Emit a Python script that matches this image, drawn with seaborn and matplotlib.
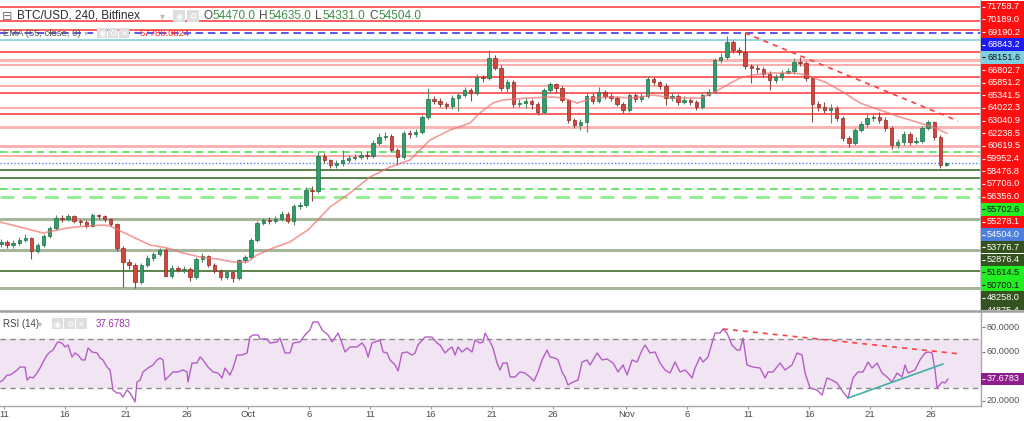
import numpy as np
import pandas as pd
import matplotlib
matplotlib.use("Agg")
import matplotlib.pyplot as plt
import seaborn as sns
from matplotlib.patches import Rectangle

# ---------------- data ----------------
candle_start = "2021-09-10 12:00"      # 12h candles
first_open = 45500
closes = [
    45768, 45436, 45657, 45989, 46210, 44772, 45436, 46431, 47316, 48427,
    48350, 48643, 48090, 47980, 47537, 48754, 48643, 48312, 47758, 45104,
    43556, 43224, 41344, 43224, 43998, 44440, 44883, 42007, 42892, 42700,
    42781, 41897, 43888, 44220, 43224, 42560, 41897, 42450, 41786, 43777,
    44109, 45989, 47869, 48201, 48050, 48312, 48864, 48090, 49749, 49860,
    51519, 51408, 55280, 54837, 54284, 54505, 54837, 55058, 55169, 55390,
    55280, 56717, 57381, 57491, 55943, 55169, 57823, 57713, 57934, 59593,
    61582, 61400, 61031, 60809, 61694, 62026, 62579, 62247, 64017, 63900,
    66118, 65012, 62800, 63464, 61031, 61141, 61362, 61031, 60146, 62579,
    63243, 62800, 61473, 59261, 58708, 59040, 61915, 61362, 62358, 61915,
    61694, 61031, 60367, 62026, 61582, 61915, 63796, 63464, 63021, 61694,
    61915, 61252, 61473, 61252, 60699, 62026, 62358, 65897, 66229, 67888,
    67003, 66782, 65234, 65012, 64902, 64349, 63685, 64017, 64459, 64680,
    65676, 65565, 63906, 61031, 60699, 60367, 60588, 59482, 57271, 56717,
    58155, 58819, 59482, 59593, 59261, 58376, 56497, 56828, 57713, 56828,
    56939, 58376, 59040, 57381, 54284, 54504]
highs = [
    46150, 46000, 45950, 46300, 46700, 46350, 45700, 46650, 47550, 48700,
    48750, 48900, 48800, 48300, 48150, 48950, 48900, 48800, 48450, 47900,
    45300, 43900, 43500, 43500, 44300, 44700, 45150, 45050, 43200, 43150,
    43100, 43000, 44100, 44600, 44350, 43400, 42750, 42700, 42600, 43900,
    44350, 46200, 48100, 48400, 48500, 48600, 49200, 49100, 50000, 50200,
    51900, 51950, 55700, 55650, 55000, 54800, 55900, 55400, 55500, 55700,
    55800, 57000, 57800, 57900, 57700, 56200, 58000, 58200, 58300, 59850,
    62800, 61900, 61700, 61300, 62000, 62400, 62900, 62800, 64300, 64200,
    67000, 66400, 65300, 63800, 63700, 61600, 61700, 61600, 61300, 62800,
    63500, 63400, 63000, 61600, 59500, 59400, 62200, 62200, 62900, 62600,
    62300, 61900, 61300, 62300, 62300, 62200, 64100, 64000, 63600, 63300,
    62300, 62100, 61900, 61700, 61500, 62300, 62700, 66100, 66700, 68500,
    68100, 67300, 68900, 65500, 65300, 65100, 64700, 64300, 64800, 65000,
    66100, 66200, 65800, 64100, 61400, 61300, 61000, 60800, 59700, 57500,
    58400, 59100, 59900, 59900, 60200, 59600, 58600, 57200, 58000, 57900,
    57400, 58600, 59300, 59200, 57600, 54635]
lows = [
    45200, 45100, 45150, 45400, 45800, 43900, 44500, 45250, 46200, 47100,
    48000, 48100, 47850, 47700, 47300, 47400, 48300, 48000, 47500, 44800,
    40800, 42800, 40700, 41100, 43000, 43700, 44200, 41900, 41800, 42400,
    42350, 41500, 41700, 43600, 43000, 42300, 41600, 41650, 41300, 41600,
    43500, 43900, 45800, 47600, 47800, 47850, 48100, 47900, 47700, 49400,
    49600, 50300, 51200, 54500, 53900, 53900, 54200, 54500, 54800, 54900,
    54950, 55100, 56500, 57100, 55700, 54300, 55000, 57300, 57400, 57700,
    59400, 61000, 60700, 60500, 60500, 60300, 61800, 61400, 62000, 63500,
    63700, 64800, 62500, 62400, 60700, 60700, 60600, 60500, 59800, 59900,
    62300, 62400, 61200, 58900, 58400, 58200, 57900, 61000, 61100, 61600,
    61400, 60800, 60000, 60100, 61300, 61300, 61700, 63100, 62700, 60900,
    61400, 60900, 61000, 60900, 60400, 60500, 61900, 62200, 65600, 66000,
    66700, 66400, 64900, 63300, 64500, 64000, 62600, 63400, 63700, 64300,
    64400, 65200, 63600, 59000, 60300, 60000, 58900, 59100, 56900, 56300,
    56500, 57900, 58500, 59100, 58900, 58000, 56100, 56200, 56500, 56500,
    56600, 56700, 58100, 57100, 53900, 54200]

# EMA(55) line, days since Sep 11
ema_days = [-0.33, 1.31, 3.20, 5.16, 6.80, 8.11, 8.69, 10.57, 11.97, 13.36,
            14.67, 16.07, 17.46, 18.77, 19.92, 20.74, 22.05, 23.44, 24.26, 24.92,
            26.72, 28.36, 30.00, 31.64, 33.28, 34.92, 36.56, 38.20, 39.00, 40.08,
            40.90, 42.87, 45.00, 45.82, 46.97, 48.28, 49.92, 51.56, 53.20, 54.84,
            57.05, 58.11, 59.26, 60.33, 61.39, 63.03, 64.67, 65.82, 67.46, 68.77,
            70.16, 71.80, 73.44, 75.08, 76.15, 77.30]
ema_vals = [47980, 47427, 46763, 47316, 47537, 47648, 47537, 46320, 45436, 45104,
            44551, 44109, 43888, 43556, 43556, 44330, 45104, 45768, 46542, 47095,
            49639, 51187, 52957, 54063, 54837, 57049, 58155, 58929, 60035, 61141,
            61473, 61694, 61805, 61694, 61141, 61694, 61805, 61694, 62026, 61694,
            61694, 62247, 63132, 63906, 64238, 64459, 64459, 64238, 63353, 62358,
            61141, 60367, 59593, 58929, 58486, 57786]

# RSI(14)
rsi_days = [-0.33, -0.08, 0.25, 0.49, 0.74, 1.07, 1.31, 1.72, 1.89, 2.13,
            2.38, 2.70, 2.95, 3.20, 3.52, 3.77, 4.02, 4.34, 4.43, 4.75,
            5.00, 5.25, 5.57, 5.82, 6.07, 6.39, 6.64, 6.89, 7.21, 7.62,
            7.87, 8.11, 8.44, 8.69, 8.93, 9.26, 9.51, 9.75, 10.08, 10.33,
            10.57, 10.74, 10.90, 11.15, 11.39, 11.80, 12.21, 12.54, 12.79, 13.03,
            13.20, 13.61, 13.85, 14.26, 14.67, 15.00, 15.08, 15.41, 15.82, 16.07,
            16.31, 16.72, 17.13, 17.54, 17.87, 18.11, 18.52, 18.77, 19.10, 19.51,
            19.92, 20.16, 20.41, 20.82, 20.98, 21.56, 21.80, 22.38, 22.62, 23.03,
            23.44, 23.69, 24.26, 24.67, 25.08, 25.33, 25.74, 26.07, 26.56, 26.89,
            27.38, 27.70, 27.95, 28.36, 28.93, 29.34, 29.59, 29.84, 30.16, 30.41,
            30.82, 31.07, 31.39, 31.64, 32.05, 32.30, 32.62, 33.03, 33.44, 33.69,
            33.93, 34.51, 35.08, 35.49, 35.74, 36.15, 36.39, 36.72, 36.97, 37.21,
            37.54, 37.95, 38.36, 38.61, 39.02, 39.26, 39.43, 39.84, 40.08, 40.41,
            40.66, 40.90, 41.23, 41.48, 41.89, 42.30, 42.70, 43.11, 43.44, 43.77,
            44.10, 44.51, 44.75, 45.16, 45.41, 45.74, 45.98, 46.23, 46.64, 47.05,
            47.38, 47.79, 48.03, 48.28, 48.61, 49.02, 49.43, 49.92, 50.33, 50.74,
            51.07, 51.48, 51.89, 52.30, 52.54, 52.95, 53.36, 53.77, 54.18, 54.59,
            55.00, 55.41, 55.82, 56.07, 56.39, 56.64, 57.05, 57.30, 57.70, 58.03,
            58.28, 58.69, 58.93, 59.26, 59.67, 60.08, 60.33, 60.57, 60.90, 61.39,
            61.97, 62.38, 62.62, 63.03, 63.61, 64.02, 64.59, 65.00, 65.41, 65.66,
            66.07, 66.64, 67.05, 67.46, 67.87, 68.28, 68.77, 69.18, 69.59, 70.00,
            70.41, 70.82, 71.15, 71.56, 71.97, 72.38, 72.79, 73.20, 73.61, 73.85,
            74.10, 74.67, 75.08, 75.49, 75.74, 76.07, 76.31, 76.48, 76.89, 77.13,
            77.38]
rsi_vals = [35.1, 36.7, 40.8, 40.8, 42.4, 44.9, 47.3, 47.3, 36.7, 39.2,
            38.4, 42.4, 46.5, 51.4, 57.1, 59.6, 61.2, 66.9, 67.8, 66.9,
            63.7, 65.3, 55.5, 58.8, 57.1, 53.1, 53.1, 62.9, 59.6, 58.8,
            54.7, 53.1, 47.3, 44.9, 28.6, 26.1, 26.1, 22.9, 28.6, 26.1,
            22.0, 18.8, 35.1, 36.7, 43.3, 46.5, 49.0, 53.1, 54.7, 53.1,
            36.7, 40.8, 43.3, 43.3, 44.9, 43.3, 35.1, 50.6, 50.6, 55.5,
            53.1, 47.3, 43.3, 42.4, 38.4, 46.5, 40.8, 46.5, 57.1, 57.1,
            58.8, 71.8, 73.5, 73.5, 70.2, 70.2, 66.9, 67.8, 71.0, 58.8,
            58.8, 66.9, 67.8, 73.5, 77.6, 84.1, 84.1, 77.6, 73.5, 67.8,
            75.1, 66.9, 59.6, 63.7, 63.7, 66.9, 63.7, 55.5, 66.9, 67.8,
            69.4, 59.6, 58.8, 53.1, 49.0, 44.1, 58.8, 59.6, 57.1, 58.8,
            65.3, 71.8, 71.8, 66.9, 65.3, 58.8, 61.2, 63.7, 57.1, 63.7,
            59.6, 62.9, 59.6, 69.4, 66.9, 67.8, 75.1, 67.8, 62.9, 50.6,
            44.9, 50.6, 50.6, 39.2, 39.2, 43.3, 42.4, 39.2, 35.9, 43.3,
            53.1, 61.2, 55.5, 54.7, 53.1, 43.3, 39.2, 32.7, 35.1, 36.7,
            51.4, 53.1, 49.0, 53.1, 58.8, 53.1, 53.9, 50.6, 43.3, 49.0,
            40.8, 53.1, 51.4, 61.2, 65.3, 58.8, 59.6, 50.6, 44.9, 42.4,
            51.4, 43.3, 44.9, 42.4, 38.4, 46.5, 55.5, 51.4, 55.5, 66.9,
            75.1, 75.1, 78.4, 75.1, 65.3, 61.2, 61.2, 71.0, 49.0, 47.3,
            46.5, 38.4, 43.3, 43.3, 50.6, 44.9, 49.0, 58.8, 57.1, 42.4,
            30.2, 28.6, 24.5, 38.4, 36.7, 34.3, 26.9, 22.0, 38.4, 43.3,
            43.3, 51.4, 46.5, 50.6, 42.4, 39.2, 35.1, 42.4, 39.2, 49.0,
            42.4, 44.9, 53.1, 58.8, 59.6, 58.8, 44.9, 30.2, 35.1, 34.3,
            37.68]

# horizontal price levels and their axis labels
level_prices = [71758.7, 70189.0, 69190.2, 68843.2, 68151.6, 66802.7, 65851.2,
                65341.5, 64022.3, 63040.9, 62238.5, 60619.5, 59952.4, 58476.8,
                57706.0, 56356.0, 55702.6, 55278.1, 54504.0, 53776.7, 52876.4,
                51614.5, 50700.1, 48258.0, 44875.4, 42560.0, 40680.0]
level_styles = ["red", "red", "red", "blue_dash", "cyan", "red", "pink",
                "pink_thin", "red", "pink_thin", "red", "pink_thin", "red", "pink",
                "none", "pink", "gdash", "pink_thin", "blue_dot", "dkgreen", "dkgreen",
                "gdash", "gdash_thick", "gray_green", "gray_green", "dkgreen", "gray_green"]
R, G, DG = "#ff1010", "#22ee22", "#34531f"
label_colors = [R, R, R, "#1c1cf0", "#7ecfdf", R, R, R, R, R, R, R, R, R, R, R,
                G, R, "#4c7fe0", DG, DG, G, G, DG, DG, DG, DG]
label_text_colors = ["white"] * 27
for k in (4, 16, 21, 22):
    label_text_colors[k] = "#151515"

price_trend_days = [60.74, 78.20]
price_trend_vals = [68883, 59150]
rsi_red_days = [58.93, 78.36]
rsi_red_vals = [78.4, 58.0]
rsi_teal_days = [69.18, 76.97]
rsi_teal_vals = [22.0, 49.8]
rsi_last = 37.6783
ema_last = "57786.0824"

ohlc_letters = ["O", "H", "L", "C"]
ohlc_values = ["54470.0", "54635.0", "54331.0", "54504.0"]

tick_dates = ["2021-09-11", "2021-09-16", "2021-09-21", "2021-09-26", "2021-10-01",
              "2021-10-06", "2021-10-11", "2021-10-16", "2021-10-21", "2021-10-26",
              "2021-11-01", "2021-11-06", "2021-11-11", "2021-11-16", "2021-11-21",
              "2021-11-26"]
tick_labels = ["11", "16", "21", "26", "Oct", "6", "11", "16", "21", "26",
               "Nov", "6", "11", "16", "21", "26"]
rsi_axis_ticks = [80, 60, 20]

# ---------------- styling ----------------
sns.set_theme(style="white")
plt.rcParams['font.family'] = ['Liberation Sans', 'DejaVu Sans']
plt.rcParams['axes.unicode_minus'] = False

STY = {
    "red": dict(color="#ff1f1f", lw=1.1, alpha=0.9, ls="-"),
    "pink": dict(color="#ff6b6b", lw=2.2, alpha=0.5, ls="-"),
    "pink_thin": dict(color="#ff5a5a", lw=1.2, alpha=0.6, ls="-"),
    "blue_dash": dict(color="#2a2aee", lw=1.1, ls=(0, (5, 3))),
    "cyan": dict(color="#8fd4e0", lw=1.3, ls="-"),
    "gdash": dict(color="#44dd44", lw=1.1, ls=(0, (5, 3))),
    "gdash_thick": dict(color="#8cee8c", lw=2.0, ls=(0, (5, 3))),
    "dkgreen": dict(color="#3f6f2c", lw=1.2, ls="-"),
    "gray_green": dict(color="#a5b69a", lw=2.2, ls="-"),
    "blue_dot": dict(color="#5a7ff0", lw=1.0, ls=(0, (1, 1.5))),
}

W, H = 1024, 421
PLOT_R = 981
PRICE_H = 310
RSI_TOP, RSI_BOT = 312, 406
fig = plt.figure(figsize=(W / 100, H / 100), dpi=100)
fig.patch.set_facecolor("white")

ax = fig.add_axes([0, (H - PRICE_H) / H, PLOT_R / W, PRICE_H / H])
axr = fig.add_axes([0, (H - RSI_BOT) / H, PLOT_R / W, (RSI_BOT - RSI_TOP) / H])
XL = (-0.33, 80.08)
# RSI panel value range mapped so that 80 -> y327 and 20 -> y401 (as in reference)
RSI_YL = (80 - (RSI_BOT - 327) / 1.225, 80 + (327 - RSI_TOP) / 1.225)

# ---- price panel ----
base = pd.Timestamp("2021-09-11")
starts = pd.date_range(candle_start, periods=len(closes), freq="12h")
t = ((starts - base) / pd.Timedelta(days=1)).to_numpy() + 0.25
c = np.array(closes, float)
o = np.r_[first_open, c[:-1]]
hi = np.array(highs, float)
lo = np.array(lows, float)
up = c >= o

for p, s in zip(level_prices, level_styles):
    if s != "none":
        ax.axhline(p, zorder=2, **STY[s])

ax.vlines(t, lo, hi, colors=list(np.where(up, "#4f8f6a", "#8d4a44")), lw=0.8, zorder=3)
ax.bar(t, np.maximum(np.abs(c - o), 40), bottom=np.minimum(o, c), width=0.28,
       color=list(np.where(up, "#2f9e68", "#d4453c")),
       edgecolor=list(np.where(up, "#1f6e48", "#8e2b25")), linewidth=0.5, zorder=4)

sns.lineplot(x=ema_days, y=ema_vals, ax=ax, color="#f07070", linewidth=1.2, alpha=0.7, zorder=5)
ax.plot(price_trend_days, price_trend_vals, color="#ff3b3b", lw=1.2, ls=(0, (3, 3)), zorder=6)

ax.set_xlim(*XL)
ax.set_ylim(38247, 72533)
ax.set_xticks([]); ax.set_yticks([])
ax.set_xlabel(""); ax.set_ylabel("")
for sp in ("left", "top", "bottom"):
    ax.spines[sp].set_visible(False)
ax.spines["right"].set_color("#c0c0c0")

# ---- RSI panel ----
axr.axhspan(30, 70, color="#f2e5f3", zorder=0, lw=0)
for lv in (70, 30):
    axr.axhline(lv, color="#8c8c8c", lw=1.0, ls=(0, (4, 3)), zorder=1)
sns.lineplot(x=rsi_days, y=rsi_vals, ax=axr, color="#b45ec5", linewidth=1.0, zorder=3)
axr.plot(rsi_red_days, rsi_red_vals, color="#ff4040", lw=1.2, ls=(0, (3, 3)), zorder=4)
axr.plot(rsi_teal_days, rsi_teal_vals, color="#3fb0a5", lw=1.2, zorder=4)
axr.set_xlim(*XL)
axr.set_ylim(*RSI_YL)
axr.set_yticks([])
axr.set_xlabel(""); axr.set_ylabel("")
tick_pos = ((pd.to_datetime(tick_dates) - base) / pd.Timedelta(days=1)).to_numpy()
axr.set_xticks(tick_pos)
axr.set_xticklabels(tick_labels)
axr.tick_params(axis="x", bottom=True, length=2.5, width=0.8, color="#9a9a9a",
                labelsize=6.8, labelcolor="#4a4a4a", pad=0.5)
for sp in ("left", "top"):
    axr.spines[sp].set_visible(False)
for sp in ("right", "bottom"):
    axr.spines[sp].set_color("#a8a8a8")
    axr.spines[sp].set_linewidth(1.0)

# ---- price label column (labels stacked from the top, as on the reference axis) ----
apl = fig.add_axes([PLOT_R / W, (H - PRICE_H) / H, (W - PLOT_R) / W, PRICE_H / H])
apl.set_xlim(0, 43); apl.set_ylim(PRICE_H, 0); apl.axis("off")
for k, (v, fc, tc) in enumerate(zip(level_prices, label_colors, label_text_colors)):
    yc = 6.8 + 12.65 * k
    if yc - 6.3 >= PRICE_H:      # label lies below the visible label column
        continue
    apl.add_patch(Rectangle((0.3, yc - 6.3), 42.2, 12.6, fc=fc, ec="none", clip_on=True))
    apl.hlines(yc, 1.0, 4.0, colors=tc, lw=0.8)
    apl.text(6, yc, f"{v:.1f}", color=tc, fontsize=6.6, va="center", ha="left", clip_on=True)

# ---- RSI label column ----
arl = fig.add_axes([PLOT_R / W, (H - RSI_BOT) / H, (W - PLOT_R) / W, (RSI_BOT - RSI_TOP) / H])
arl.set_xlim(0, 43); arl.set_ylim(*RSI_YL); arl.axis("off")
for v in rsi_axis_ticks:
    arl.hlines(v, 0.5, 3.5, colors="#777777", lw=0.8)
    arl.text(5.5, v, f"{v:.4f}", color="#555555", fontsize=6.6, va="center", ha="left")
arl.add_patch(Rectangle((0.3, rsi_last - 5.0), 42.2, 10.0, fc="#8e1e8e", ec="none"))
arl.hlines(rsi_last, 1.0, 4.0, colors="white", lw=0.8)
arl.text(5.5, rsi_last, f"{rsi_last:.4f}", color="white", fontsize=6.6, va="center", ha="left")

# ---- overlay for header texts ----
ov = fig.add_axes([0, 0, 1, 1])
ov.set_xlim(0, W); ov.set_ylim(H, 0); ov.axis("off")
ov.patch.set_alpha(0)
ov.set_zorder(10)
ov.axhline(311, color="#9e9e9e", lw=1.8)

def icon(x, y, w, h, glyph):
    ov.add_patch(Rectangle((x, y), w, h, fc="#dedede", ec="none"))
    ov.text(x + w / 2, y + h / 2 + 0.5, glyph, color="white", fontsize=6,
            ha="center", va="center", family="DejaVu Sans")

renderer = fig.canvas.get_renderer()

ov.text(2, 16, "\u229f", color="#777777", fontsize=9, va="center", ha="left", family="DejaVu Sans")
ov.text(17, 16, "BTC/USD, 240, Bitfinex", color="#2b2b2b", fontsize=8.5, va="center", ha="left")
ov.text(160, 16, "\u25be", color="#bbbbbb", fontsize=7, va="center", ha="left", family="DejaVu Sans")
icon(173, 10, 12, 12, "\u25c9")
icon(187, 10, 12, 12, "\u2699")
x = 203
for L, V in zip(ohlc_letters, ohlc_values):
    t1 = ov.text(x, 16, L, color="#4a4a4a", fontsize=8.5, va="center", ha="left")
    x += t1.get_window_extent(renderer=renderer).width + 0.5
    t2 = ov.text(x, 16, V, color="#3f8f46", fontsize=8.5, va="center", ha="left")
    x += t2.get_window_extent(renderer=renderer).width + 4

ov.text(3, 33, "EMA (55, close, 0)", color="#555555", fontsize=6.8, va="center", ha="left")
ov.text(84, 33, "\u25be", color="#bbbbbb", fontsize=6, va="center", ha="left", family="DejaVu Sans")
icon(97, 28, 10, 10, "\u25c9")
icon(108, 28, 10, 10, "\u2699")
icon(119, 28, 10, 10, "\u2715")
ov.text(140, 33, ema_last, color="#ff2a2a", fontsize=6.8, va="center", ha="left")

ov.text(3, 324, "RSI (14)", color="#444444", fontsize=7, va="center", ha="left")
ov.text(38, 324, "\u25be", color="#bbbbbb", fontsize=6, va="center", ha="left", family="DejaVu Sans")
icon(52, 318, 11, 11, "\u25c9")
icon(64, 318, 11, 11, "\u2699")
icon(76, 318, 11, 11, "\u2715")
ov.text(96, 324, f"{rsi_last:.4f}", color="#9b2fae", fontsize=7, va="center", ha="left")

fig.savefig("out.png", dpi=100, facecolor="white")
